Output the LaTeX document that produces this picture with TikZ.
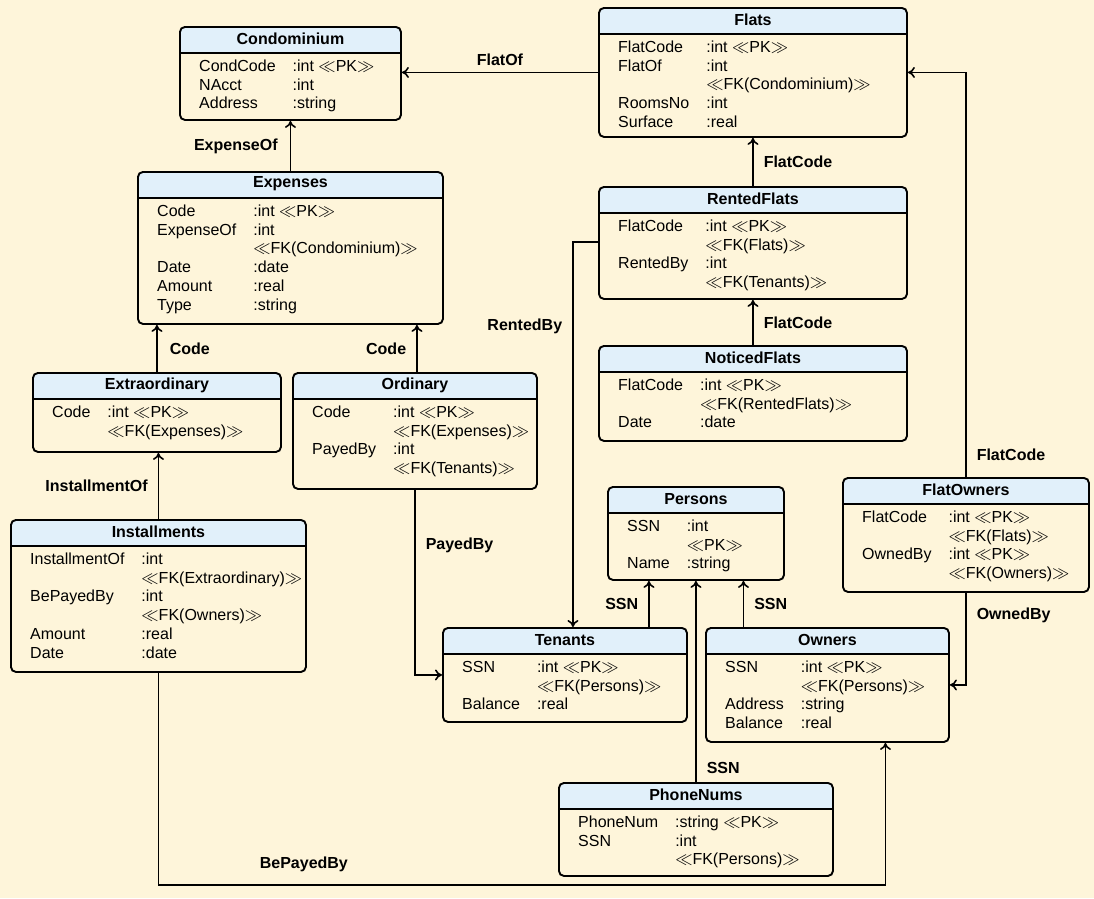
\documentclass[tikz,border=0pt]{standalone}
\usepackage{fontspec}
\setmainfont{Liberation Sans}
\usepackage{tikz}
\usetikzlibrary{arrows.meta}
\definecolor{paper}{HTML}{FEF5DA}
\definecolor{headblue}{HTML}{E1F0FA}
\newcommand\erfont{\fontsize{16pt}{18.8pt}\selectfont}
\newcommand\pkey{$\ll$PK$\gg$}
\newcommand\fkey[1]{$\ll$FK(#1)$\gg$}
\tikzset{
	tbl/.style={draw, line width=1.9pt, rounded corners=5pt, fill=paper, anchor=north west, inner sep=0pt,
		path picture={\fill[headblue, sharp corners] (path picture bounding box.north west) rectangle ([yshift=-26pt]path picture bounding box.north east);
			\draw[line width=1.6pt, sharp corners] ([yshift=-26pt]path picture bounding box.north west) -- ([yshift=-26pt]path picture bounding box.north east);}},
	tbltitle/.style={font=\erfont\bfseries, inner sep=0pt},
	tblrows/.style={font=\erfont, anchor=north west, inner sep=0pt, align=left},
	fk/.style={line width=1.6pt, -{Computer Modern Rightarrow[length=7pt,width=11pt]}},
	lbl/.style={font=\erfont\bfseries, inner sep=0pt}
}
\newcommand\entity[7]{%
	\node[tbl, minimum width=#4pt, minimum height=#5pt] (#1) at (#2,#3) {};
	\node[tbltitle] (#1-t) at ([yshift=-13pt]#1.north) {#6};
	\node[tblrows] (#1-r) at ([xshift=20pt,yshift=-32pt]#1.north west) {\begin{tabular}{@{}l@{\hspace{17pt}}l@{}}#7\end{tabular}};
}

\begin{document}
\begin{tikzpicture}[x=1pt, y=-1pt]
	%%%%% START %%%%%
	\useasboundingbox (0,0) rectangle (1094,898);
	\fill[paper] (0,0) rectangle (1094,898);
	
	\entity{cond}{179}{26}{221}{93}{Condominium}{CondCode & :int \pkey\\ NAcct & :int\\ Address & :string}
	\entity{flats}{598}{7}{308}{129}{Flats}{FlatCode & :int \pkey\\ FlatOf & :int\\ & \fkey{Condominium}\\ RoomsNo & :int\\ Surface & :real}
	\entity{exp}{137}{171}{305}{152}{Expenses}{Code & :int \pkey\\ ExpenseOf & :int\\ & \fkey{Condominium}\\ Date & :date\\ Amount & :real\\ Type & :string}
	\entity{extra}{32}{372}{248}{79}{Extraordinary}{Code & :int \pkey\\ & \fkey{Expenses}}
	\entity{ord}{292}{372}{244}{116}{Ordinary}{Code & :int \pkey\\ & \fkey{Expenses}\\ PayedBy & :int\\ & \fkey{Tenants}}
	\entity{inst}{10}{519}{295}{152}{Installments}{InstallmentOf & :int\\ & \fkey{Extraordinary}\\ BePayedBy & :int\\ & \fkey{Owners}\\ Amount & :real\\ Date & :date}
	\entity{rent}{598}{186}{308}{112}{RentedFlats}{FlatCode & :int \pkey\\ & \fkey{Flats}\\ RentedBy & :int\\ & \fkey{Tenants}}
	\entity{notice}{598}{345}{308}{95}{NoticedFlats}{FlatCode & :int \pkey\\ & \fkey{RentedFlats}\\ Date & :date}
	\entity{pers}{607}{486}{176}{93}{Persons}{SSN & :int\\ & \pkey\\ Name & :string}
	\entity{fown}{842}{477}{246}{114}{FlatOwners}{FlatCode & :int \pkey\\ & \fkey{Flats}\\ OwnedBy & :int \pkey\\ & \fkey{Owners}}
	\entity{ten}{442}{627}{244}{94}{Tenants}{SSN & :int \pkey\\ & \fkey{Persons}\\ Balance & :real}
	\entity{own}{705}{627}{243}{114}{Owners}{SSN & :int \pkey\\ & \fkey{Persons}\\ Address & :string\\ Balance & :real}
	\entity{phone}{558}{782}{274}{93}{PhoneNums}{PhoneNum & :string \pkey\\ SSN & :int\\ & \fkey{Persons}}
	
	%%%%% LINKS %%%%%
	\draw[fk] (flats.west) -- node[lbl, above=6pt] {FlatOf} (cond.east |- flats.west);
	\draw[fk] (fown.north) |- node[lbl, pos=0.027, right=10pt] {FlatCode} (flats.east);
	\draw[fk] (rent.north) -- node[lbl, right=10pt] {FlatCode} (flats.south);
	\draw[fk] (notice.north) -- node[lbl, right=10pt] {FlatCode} (rent.south);
	\draw[fk] (rent.west |- 0,242) -| node[lbl, pos=0.61, left=10pt] {RentedBy} ([xshift=8pt]ten.north);
	\draw[fk] (ord.south) |- node[lbl, pos=0.15, right=10pt] {PayedBy} (ten.west);
	
	\draw[fk] (exp.north) -- node[lbl, left=12pt] {ExpenseOf} (cond.south);
	\draw[fk] (extra.north) -- node[lbl, right=12pt] {Code} (extra.north |- exp.south);
	\draw[fk] ([xshift=2pt]ord.north) coordinate (oc) -- node[lbl, left=10pt] {Code} (oc |- exp.south);
	\draw[fk] (inst.north) -- node[lbl, left=10pt] {InstallmentOf} (inst.north |- extra.south);
	\draw[fk] (inst.south) -- (inst.south |- 0,885) -| node[lbl, pos=0.1, above=12pt] {BePayedBy} ([xshift=58pt]own.south);
	
	\draw[fk] ([xshift=84pt]ten.north) coordinate (ts) -- node[lbl, left=10pt] {SSN} (ts |- pers.south);
	\draw[fk] ([xshift=-84pt]own.north) coordinate (os) -- node[lbl, right=10pt] {SSN} (os |- pers.south);
	\draw[fk] (phone.north) -- node[lbl, pos=0.07, right=10pt] {SSN} (pers.south);
	\draw[fk] (fown.south) |- node[lbl, pos=0.12, right=10pt] {OwnedBy} (own.east);
	%%%%% END %%%%%
\end{tikzpicture}
\end{document}
